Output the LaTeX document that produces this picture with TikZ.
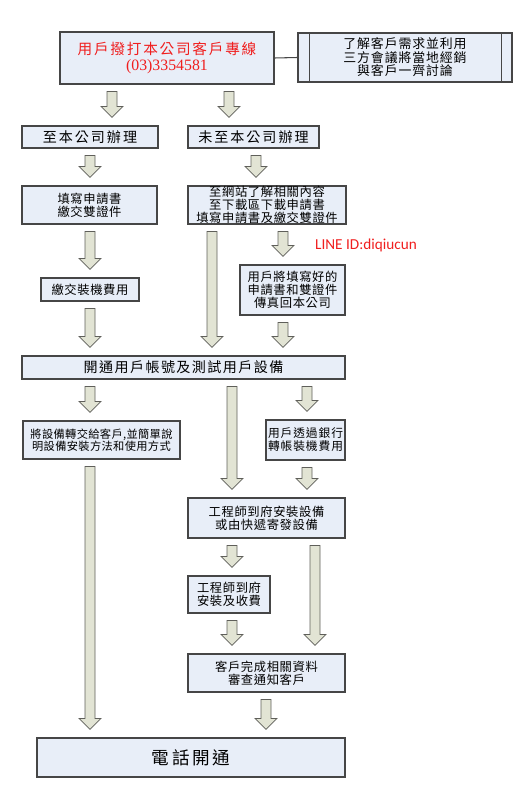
\documentclass[tikz,border=0pt]{standalone}
\usepackage{fontspec}
\usepackage{tikz}
\usetikzlibrary{calc}
\newfontfamily\cjk{Noto Sans CJK TC}
\newfontfamily\numfont{Liberation Serif}
\newfontfamily\linefont{Carlito}
\definecolor{BoxFill}{RGB}{232,238,248}
\definecolor{BoxLine}{RGB}{70,70,70}
\definecolor{ArrFill}{RGB}{226,228,212}
\definecolor{ArrLine}{RGB}{95,95,90}
\definecolor{CallRed}{RGB}{240,30,30}
\newlength{\upx}
\setlength{\upx}{0.03cm}
% size / line skip / letter spacing of the chinese labels
\newcommand{\zh}[3]{\cjk\fontsize{#1}{#2}\selectfont\addfontfeatures{LetterSpace=#3}}
% block arrow at x (px) from one node down to the next
\newcommand{\fatarr}[3]{%
  \draw[fatarrow] let \p1=(#2.south), \p2=(#3.north) in
    ({(#1-5)*\upx},{\y1-7*\upx}) -- ({(#1+5)*\upx},{\y1-7*\upx})
    -- ({(#1+5)*\upx},{\y2+19*\upx}) -- ({(#1+11)*\upx},{\y2+19*\upx})
    -- ({#1*\upx},{\y2+8*\upx}) -- ({(#1-11)*\upx},{\y2+19*\upx})
    -- ({(#1-5)*\upx},{\y2+19*\upx}) -- cycle;}

\begin{document}
\begin{tikzpicture}[x=0.03cm, y=-0.03cm,
    flowbox/.style={rectangle, draw=BoxLine, line width=0.9pt, fill=BoxFill,
                    align=center, inner sep=0pt, font=\zh{10.5}{11}{5}},
    fatarrow/.style={draw=ArrLine, line width=0.6pt, fill=ArrFill, line join=miter}
  ]
  \useasboundingbox (0,0) rectangle (527,797);

  % top row
  \node[flowbox, minimum width=6.42cm, minimum height=1.56cm, text=CallRed,
        font=\zh{12.5}{13}{12}]
        (call) at (167,58)
        {用戶撥打本公司客戶專線\\[1pt]{\numfont\fontsize{13.5}{13}\selectfont (03)3354581}};
  \node[flowbox, minimum width=6.42cm, minimum height=1.47cm, font=\zh{11}{11.5}{7}]
        (discuss) at (405,57.5) {了解客戶需求並利用\\三方會議將當地經銷\\與客戶一齊討論};
  \draw[BoxLine, line width=0.9pt] ([xshift=12*\upx]discuss.north west)
        -- ([xshift=12*\upx]discuss.south west);
  \draw[BoxLine, line width=0.9pt] ([xshift=-11*\upx]discuss.north east)
        -- ([xshift=-11*\upx]discuss.south east);
  \draw[BoxLine, line width=0.9pt] (call.east) -- (discuss.west);

  % two ways
  \node[flowbox, minimum width=4.08cm, minimum height=0.66cm, font=\zh{12}{12}{14}]
        (visit) at (90,137) {至本公司辦理};
  \node[flowbox, minimum width=3.93cm, minimum height=0.66cm, font=\zh{12}{12}{14}]
        (remote) at (253.5,137) {未至本公司辦理};

  \node[flowbox, minimum width=4.05cm, minimum height=1.14cm]
        (fillform) at (89.5,205) {填寫申請書\\繳交雙證件};
  \node[flowbox, minimum width=4.74cm, minimum height=1.14cm]
        (website) at (267,205) {至網站了解相關內容\\至下載區下載申請書\\填寫申請書及繳交雙證件};

  \node[flowbox, minimum width=2.94cm, minimum height=0.69cm]
        (payfee) at (90,289.5) {繳交裝機費用};
  \node[flowbox, minimum width=3.15cm, minimum height=1.5cm]
        (fax) at (292.5,290) {用戶將填寫好的\\申請書和雙證件\\傳真回本公司};
  \node[font=\linefont\fontsize{13}{15}\selectfont, text=CallRed]
        (lineid) at (366,245) {LINE ID:diqiucun};

  \node[flowbox, minimum width=9.69cm, minimum height=0.69cm, font=\zh{12}{12}{10}]
        (open) at (183.5,367.5) {開通用戶帳號及測試用戶設備};

  % after opening
  \node[flowbox, minimum width=4.71cm, minimum height=1.14cm, font=\zh{9.6}{10.5}{3}]
        (handover) at (101.5,440) {將設備轉交給客戶,並簡單說\\明設備安裝方法和使用方式};
  \node[flowbox, minimum width=2.37cm, minimum height=1.2cm, font=\zh{10}{11}{8}]
        (transfer) at (305.5,440) {用戶透過銀行\\轉帳裝機費用};
  \node[flowbox, minimum width=4.71cm, minimum height=1.2cm]
        (engineer) at (266.5,518) {工程師到府安裝設備\\或由快遞寄發設備};
  \node[flowbox, minimum width=2.46cm, minimum height=1.11cm]
        (onsite) at (229,594.5) {工程師到府\\安裝及收費};
  \node[flowbox, minimum width=4.71cm, minimum height=1.14cm]
        (review) at (266.5,673) {客戶完成相關資料\\審查通知客戶};
  \node[flowbox, minimum width=9.24cm, minimum height=1.17cm, font=\zh{15}{15}{16}]
        (done) at (191,757.5) {電話開通};

  % block arrows
  \fatarr{112}{call}{visit}
  \fatarr{229}{call}{remote}
  \fatarr{90}{visit}{fillform}
  \fatarr{256}{remote}{website}
  \fatarr{90}{fillform}{payfee}
  \fatarr{90}{payfee}{open}
  \fatarr{212}{website}{open}
  \fatarr{283}{website}{fax}
  \fatarr{283}{fax}{open}
  \fatarr{90}{open}{handover}
  \fatarr{232}{open}{engineer}
  \fatarr{307}{open}{transfer}
  \fatarr{90}{handover}{done}
  \fatarr{307}{transfer}{engineer}
  \fatarr{232}{engineer}{onsite}
  \fatarr{315}{engineer}{review}
  \fatarr{232}{onsite}{review}
  \fatarr{266}{review}{done}
\end{tikzpicture}
\end{document}
